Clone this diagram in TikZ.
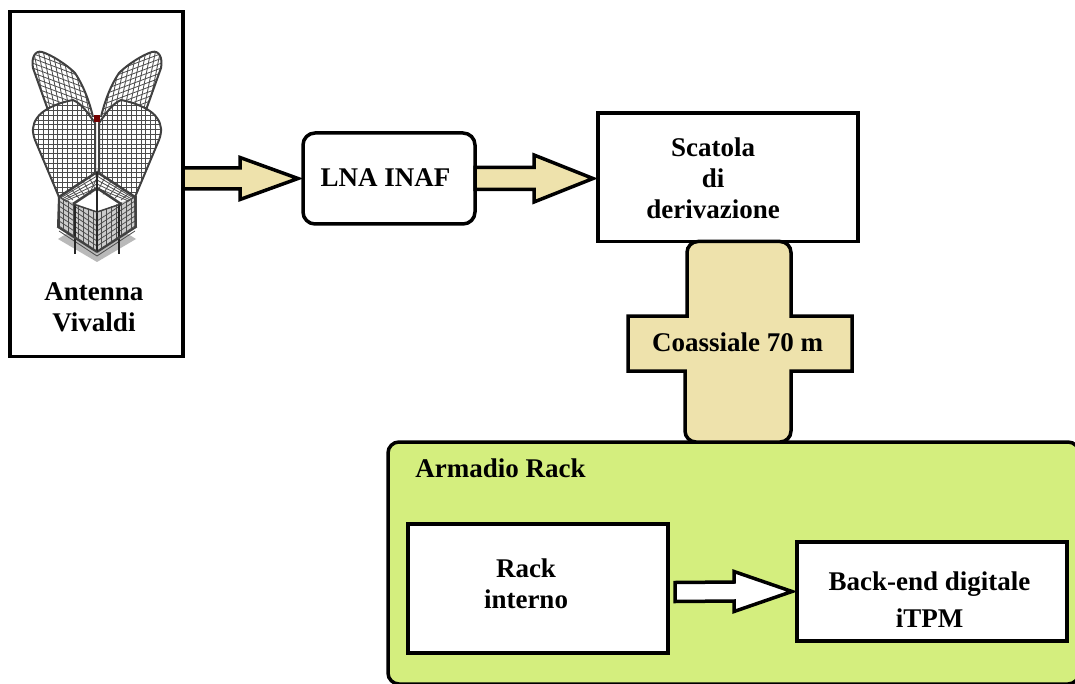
\documentclass[tikz,border=0pt]{standalone}
\usepackage{fontspec}
\setmainfont{Liberation Serif}
\usetikzlibrary{calc}
\definecolor{cablecol}{HTML}{EEE2AC}
\definecolor{rackcol}{HTML}{D4EE7E}
\newcommand{\blockarrow}[6]{
  \draw[#6] (#1) ++(0,-#3) -- ($(#2)+(-5-#5,-#3)$) -- ($(#2)+(-5-#5,-#4)$) -- ($(#2)+(-5,0)$)
  -- ($(#2)+(-5-#5,#4)$) -- ($(#2)+(-5-#5,#3)$) -- ($(#1)+(0,#3)$) -- cycle;
}
\begin{document}
\begin{tikzpicture}
  [x=1pt,y=-1pt,
   box/.style={draw,line width=3.5,fill=white,inner sep=0,outer sep=0},
   lbl/.style={font=\fontsize{27}{31}\selectfont\bfseries,align=center,inner sep=0},
   mesh/.style={gray!60!black,line width=.8},
   rim/.style={gray!50!black,line width=2}]
  \clip (0,0) rectangle (1075,684);

  \node[box,fill=rackcol,rounded corners=11,minimum width=691,minimum height=242] (rack) at (733.5,563) {};
  \node[inner sep=0,outer sep=0,minimum width=224,minimum height=55] (coaxbox) at (740,343.5) {};
  \node[box,minimum width=173,minimum height=345] (ant) at (96.5,184) {};
  \node[box,rounded corners=12,minimum width=172,minimum height=91] (lna) at (389,178.5) {};
  \node[box,minimum width=260,minimum height=128.5] (der) at (728,177.25) {};
  \node[box,minimum width=260,minimum height=129] (rint) at (538,588.5) {};
  \node[box,minimum width=270,minimum height=99] (bck) at (932,591.5) {};
  \coordinate (rout) at (675,592);

  \draw[line width=3.5,fill=cablecol,rounded corners=11]
    ($(der.south -| coaxbox)+(-2,0)$) -- ($(der.south -| coaxbox)+(51,0)$) [sharp corners]
    -- ($(coaxbox.north)+(51,0)$) -- (coaxbox.north east) -- (coaxbox.south east)
    -- ($(coaxbox.south)+(51,0)$) [rounded corners=11] -- ($(rack.north -| coaxbox)+(51,0)$)
    -- ($(rack.north -| coaxbox)+(-55,0)$) [sharp corners] -- ($(coaxbox.south)+(-55,0)$)
    -- (coaxbox.south west) -- (coaxbox.north west) -- ($(coaxbox.north)+(-53,0)$) [rounded corners=11]
    -- ($(der.south -| coaxbox)+(-53,0)$) -- cycle;

  \blockarrow{ant.east |- lna.west}{lna.west}{10.5}{21}{58}{line width=3.5,fill=cablecol}
  \blockarrow{lna.east}{der.west |- lna.east}{11}{23.5}{59}{line width=3.5,fill=cablecol}
  \blockarrow{rout}{bck.west}{9.5}{20}{58}{line width=3.5,fill=white}

  \fill[gray!55] (97,215) -- (136,239) -- (97,262) -- (58,239) -- cycle;
  \foreach \s in {1,-1}{
    \begin{scope}[shift={(97,0)},xscale=\s]
      \fill[gray!40] (0,212) -- (38,196) -- (39,227) -- (0,252) -- cycle;
      \foreach \y in {196,201,...,231}
      \draw[mesh] (38,\y) -- (0,\y+25);
      \foreach \x in {4,9,...,39}
      \draw[mesh] (\x,212-\x*.42) -- (\x,252-\x*.65);
      \draw[gray!30!black,line width=2.5] (22,205) -- (22,254) (0,212) -- (0,252);
      \draw[rim] (38,196) -- (39,227) -- (0,252);
    \end{scope}
  }
  \foreach \s in {1,-1}{
    \begin{scope}[shift={(97,0)},xscale=\s]
      \begin{scope}
        \clip (-4,117) .. controls (-8,100) and (-14,85) .. (-22,73) .. controls (-30,65) and (-45,55) .. (-55,52)
          .. controls (-62,50) and (-66,58) .. (-64,68) -- (-49,110) -- (-40,163) -- (-20,180) -- (0,176) -- cycle;
        \fill[white] (-70,40) rectangle (0,190);
        \foreach \k in {0,4.8,...,150}
        \draw[mesh] (-75,40+\k) -- (5,70+\k);
        \foreach \k in {0,4.8,...,90}
        \draw[mesh] (-80+\k,40) -- (-50+\k,190);
      \end{scope}
      \draw[rim] (-4,117) .. controls (-8,100) and (-14,85) .. (-22,73) .. controls (-30,65) and (-45,55) .. (-55,52)
        .. controls (-62,50) and (-66,58) .. (-64,68) -- (-49,110) -- (-40,163) -- (-20,180);
    \end{scope}
  }
  \foreach \s in {1,-1}{
    \begin{scope}[shift={(97,0)},xscale=\s]
      \begin{scope}
        \clip (-2,187) -- (-2,123) .. controls (-10,112) and (-15,104) .. (-24,100)
          .. controls (-40,103) and (-55,110) .. (-60,118) .. controls (-65,125) and (-65,132) .. (-62,140)
          -- (-38,197) -- cycle;
        \fill[white] (-70,95) rectangle (0,200);
        \foreach \y in {96,100.8,...,200}
        \draw[mesh] (-70,\y) -- (0,\y);
        \foreach \x in {-68,-63.2,...,0}
        \draw[mesh] (\x,95) -- (\x,200);
      \end{scope}
      \draw[rim] (-2,187) -- (-2,123) .. controls (-10,112) and (-15,104) .. (-24,100)
        .. controls (-40,103) and (-55,110) .. (-60,118) .. controls (-65,125) and (-65,132) .. (-62,140)
        -- (-38,197);
      \fill[white] (-38,197) -- (0,172) -- (0,212) -- cycle;
      \foreach \k in {0,4,...,16}
      \draw[mesh] (-38+\k*.4,197+\k*.25) -- (0,172+\k);
      \foreach \k in {0,6,...,36}
      \draw[mesh] (-38+\k,197-\k*.66) -- (-30+\k,202-\k*.32);
      \draw[rim,line width=2.5] (-38,197) -- (0,172) (-24,204) -- (0,188);
      \draw[rim,line width=1.5] (-24,204) -- (0,212) (-38,197) -- (-38,227);
    \end{scope}
  }
  \fill[red!45!black] (94,115) rectangle (100,122);
  \draw[gray!30!black,line width=1.5] (97,172) -- (97,212);

  \node[lbl] (antl) at (94,307) {Antenna\\Vivaldi};
  \node[lbl] (lnal) at (385.5,178) {LNA INAF};
  \node[lbl] (derl) at (713,178) {Scatola\\di\\derivazione};
  \node[lbl] (coaxl) at (737.5,342) {Coassiale 70 m};
  \node[lbl] (rackl) at (500.5,468) {Armadio Rack};
  \node[lbl] (rintl) at (526,584) {Rack\\interno};
  \node[lbl,font=\fontsize{27}{37}\selectfont\bfseries] (bckl) at (929.5,600) {Back-end digitale\\iTPM};
\end{tikzpicture}
\end{document}
